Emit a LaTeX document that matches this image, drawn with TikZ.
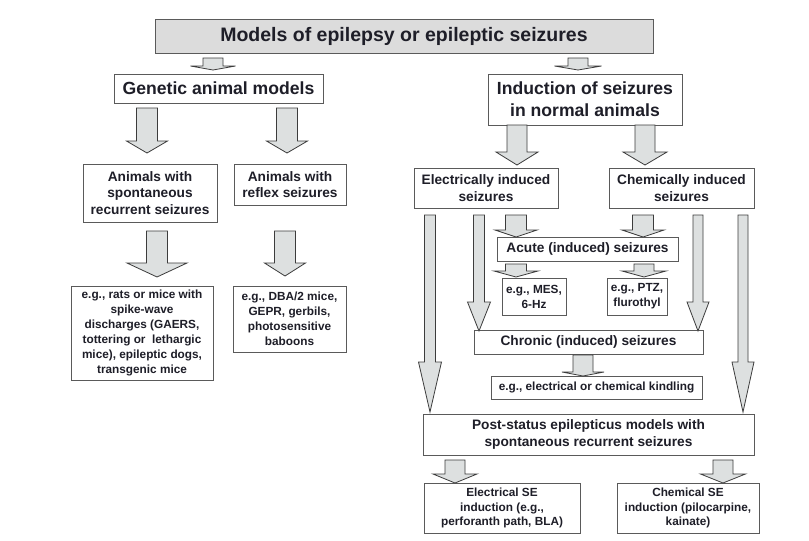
\documentclass[tikz,border=0pt]{standalone}
\usepackage{fontspec}
\setmainfont{Liberation Sans}
\definecolor{txt}{HTML}{1E1E28}
\definecolor{bord}{HTML}{5A5A5A}
\definecolor{grayfill}{HTML}{DCDCDC}
\definecolor{arrfill}{HTML}{DDE0E0}
\definecolor{arrline}{HTML}{3C3C3C}
\tikzset{
  box/.style={draw=bord, line width=0.9pt, fill=white, inner sep=0pt, align=center, text=txt},
  titlebox/.style={box, fill=grayfill},
  fbig/.style={font=\fontsize{17.6}{21.7}\selectfont\bfseries},
  fmid/.style={font=\fontsize{13.7}{16.7}\selectfont\bfseries},
  fsmall/.style={font=\fontsize{11.8}{15}\selectfont\bfseries},
  fse/.style={font=\fontsize{11.8}{14.3}\selectfont\bfseries},
  barr/.style={draw=arrline, fill=arrfill, line width=0.8pt, line join=miter}
}
% box: name, x1, y1, x2, y2, style, text
\newcommand\bx[7]{%
  \node[#6, minimum width={#4-#2}, minimum height={#5-#3}] (#1) at ({(#2+#4)/2},{(#3+#5)/2}) {#7};}
% block arrow: x, ytop, yhead, ytip, shaft width, head width
\newcommand\blockarr[6]{%
  \draw[barr] ({#1-#5/2},#2) -- ({#1+#5/2},#2) -- ({#1+#5/2},#3) -- ({#1+#6/2},#3)
    -- (#1,#4) -- ({#1-#6/2},#3) -- ({#1-#5/2},#3) -- cycle;}
\begin{document}
\begin{tikzpicture}[x=1pt,y=-1pt]
\useasboundingbox (0,0) rectangle (809,541);
\fill[white] (0,0) rectangle (809,541);

% boxes
\bx{title}{155}{19}{653}{53}{titlebox,font=\fontsize{19.5}{23}\selectfont\bfseries}{Models of epilepsy or epileptic seizures}
\bx{gen}{114}{74}{323}{103}{box,fbig}{Genetic animal models}
\bx{ind}{488}{74}{682}{125}{box,fbig}{Induction of seizures\\in normal animals}
\bx{spont}{83}{164}{217}{222}{box,fmid}{Animals with\\spontaneous\\recurrent seizures}
\bx{reflex}{234}{164}{346}{205}{box,fmid}{Animals with\\reflex seizures}
\bx{egl}{71}{286}{213}{380}{box,fsmall}{e.g., rats or mice with\\spike-wave\\discharges (GAERS,\\tottering or\ \ lethargic\\mice), epileptic dogs,\\transgenic mice}
\bx{egr}{233}{286}{346}{352}{box,fsmall}{e.g., DBA/2 mice,\\GEPR, gerbils,\\photosensitive\\baboons}
\bx{elec}{414}{168}{558}{208}{box,fmid}{Electrically induced\\seizures}
\bx{chem}{609}{168}{754}{208}{box,fmid}{Chemically induced\\seizures}
\bx{acute}{497}{237}{678}{261}{box,fmid}{Acute (induced) seizures}
\bx{mes}{502}{278}{566}{315}{box,fsmall}{e.g., MES,\\6-Hz}
\bx{ptz}{607}{278}{667}{315}{box,fsmall}{e.g., PTZ,\\flurothyl}
\bx{chron}{474}{330}{703}{354}{box,fmid}{Chronic (induced) seizures}
\bx{kind}{491}{376}{702}{399}{box,fsmall}{e.g., electrical or chemical kindling}
\bx{post}{423}{414}{754}{455}{box,fmid}{Post-status epilepticus models with\\spontaneous recurrent seizures}
\bx{ese}{424}{483}{580}{533}{box,fse}{Electrical SE\\induction (e.g.,\\perforanth path, BLA)}
\bx{cse}{617}{483}{759}{533}{box,fse}{Chemical SE\\induction (pilocarpine,\\kainate)}

% block arrows
\blockarr{213}{58}{66}{70}{20}{45}
\blockarr{578}{58}{66}{70}{20}{47}
\blockarr{147}{108}{141}{153}{21}{41}
\blockarr{287}{108}{141}{153}{21}{41}
\blockarr{517}{125}{152}{165}{20}{42}
\blockarr{645}{125}{152}{165}{20}{44}
\blockarr{157}{231}{263}{277}{21}{60}
\blockarr{285}{231}{263}{276}{21}{41}
\blockarr{430}{215}{362}{412}{11}{23}
\blockarr{479}{215}{302}{331}{11}{23}
\blockarr{698}{215}{302}{331}{10}{22}
\blockarr{743}{215}{362}{412}{10}{22}
\blockarr{516}{215}{230}{237}{21}{42}
\blockarr{643}{215}{230}{237}{21}{42}
\blockarr{516}{264}{271}{277}{21}{44}
\blockarr{644}{264}{271}{277}{20}{44}
\blockarr{583}{355}{372}{376}{20}{42}
\blockarr{455}{460}{474}{483}{20}{44}
\blockarr{723}{460}{474}{483}{20}{45}
\end{tikzpicture}
\end{document}
